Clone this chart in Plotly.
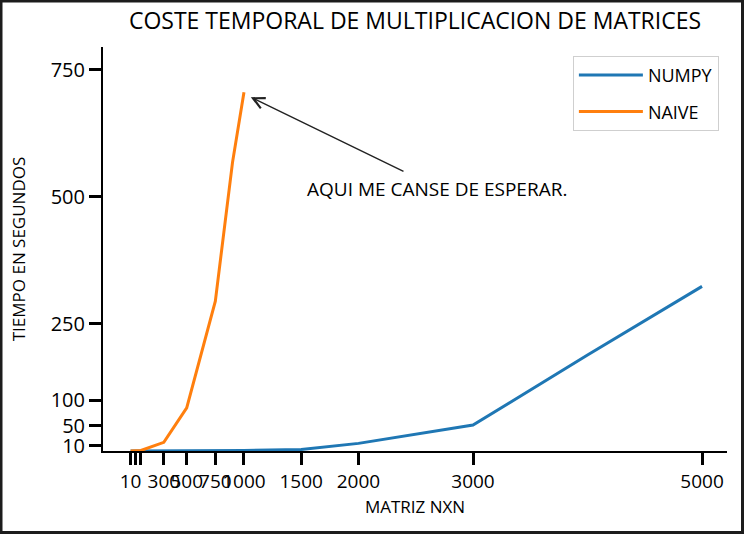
import plotly.graph_objects as go

# ---- data ----
numpy_x = [10, 50, 100, 300, 500, 750, 1000, 1500, 2000, 3000, 4000, 5000]
numpy_y = [0, 0, 0, 0, 0.1, 0.3, 1, 3, 15, 51, 189, 324]

naive_x = [10, 50, 100, 300, 500, 750, 900, 1000]
naive_y = [0, 0.1, 1, 17, 85, 295, 568, 706]

x_tickvals = [10, 50, 100, 300, 500, 750, 1000, 1500, 2000, 3000, 5000]
x_ticktext = ["10", "", "", "300", "500", "750", "1000", "1500", "2000", "3000", "5000"]
y_tickvals = [10, 50, 100, 250, 500, 750]
y_ticktext = ["10", "50", "100", "250", "500", "750"]

title_text = "COSTE TEMPORAL DE MULTIPLICACION DE MATRICES"
xlabel = "MATRIZ NXN"
ylabel = "TIEMPO EN SEGUNDOS"
note_text = "AQUI ME CANSE DE ESPERAR."
note_point = (1044, 698)
note_tail = (2406, 549)
note_pos = (2686, 515)

FONT = "Open Sans"
W, H = 744, 534
ML, MR, MT, MB = 103, 17, 47, 83
PW, PH = W - ML - MR, H - MT - MB

fig = go.Figure()
fig.add_trace(go.Scatter(x=numpy_x, y=numpy_y, mode="lines", name="NUMPY",
                         legendgroup="a",
                         line=dict(color="#1f77b4", width=3)))
fig.add_trace(go.Scatter(x=naive_x, y=naive_y, mode="lines", name="NAIVE",
                         legendgroup="b",
                         line=dict(color="#ff7f0e", width=3)))

# annotation: arrow + text
fig.add_annotation(x=note_point[0], y=note_point[1], ax=note_tail[0], ay=note_tail[1],
                   xref="x", yref="y", axref="x", ayref="y", text="",
                   showarrow=True, arrowhead=5, arrowsize=1.6, arrowwidth=1.4,
                   arrowcolor="#222222", standoff=2)
fig.add_annotation(x=note_pos[0], y=note_pos[1], xref="x", yref="y",
                   text=note_text, showarrow=False,
                   font=dict(family=FONT, size=19, color="black"))

# outer frame of the screenshot
fig.add_shape(type="rect", xref="paper", yref="paper",
              x0=(1 - ML) / PW, x1=(742.5 - ML) / PW,
              y0=(H - 532.5 - MB) / PH, y1=(H - 1 - MB) / PH,
              line=dict(color="#1c1c1c", width=3), layer="above")

fig.update_layout(
    width=W, height=H,
    margin=dict(l=ML, r=MR, t=MT, b=MB),
    paper_bgcolor="white", plot_bgcolor="white",
    font=dict(family=FONT, color="black"),
    title=dict(text=title_text, x=0.5, xref="paper", xanchor="center",
               y=1 - 21 / H, yref="container", yanchor="middle",
               font=dict(family=FONT, size=23, color="black")),
    legend=dict(x=0.987, y=0.978, xanchor="right", yanchor="top",
                bgcolor="white", bordercolor="#cfcfcf", borderwidth=1,
                font=dict(family=FONT, size=18, color="black"),
                itemwidth=64, tracegroupgap=10),
    showlegend=True,
)

fig.update_xaxes(range=[-231, 5218], showgrid=False, zeroline=False,
                 showline=True, linecolor="black", linewidth=2,
                 ticks="outside", ticklen=12, tickwidth=3, tickcolor="black",
                 tickmode="array", tickvals=x_tickvals, ticktext=x_ticktext,
                 tickangle=0, tickfont=dict(family=FONT, size=19, color="black"),
                 title=dict(text=xlabel, standoff=8,
                            font=dict(family=FONT, size=17, color="black")))
fig.update_yaxes(range=[0, 795], showgrid=False, zeroline=False,
                 showline=True, linecolor="black", linewidth=2,
                 ticks="outside", ticklen=12, tickwidth=3, tickcolor="black",
                 tickmode="array", tickvals=y_tickvals, ticktext=y_ticktext,
                 tickfont=dict(family=FONT, size=20, color="black"),
                 title=dict(text=ylabel, standoff=21,
                            font=dict(family=FONT, size=17, color="black")))

fig.write_html("out.html")
